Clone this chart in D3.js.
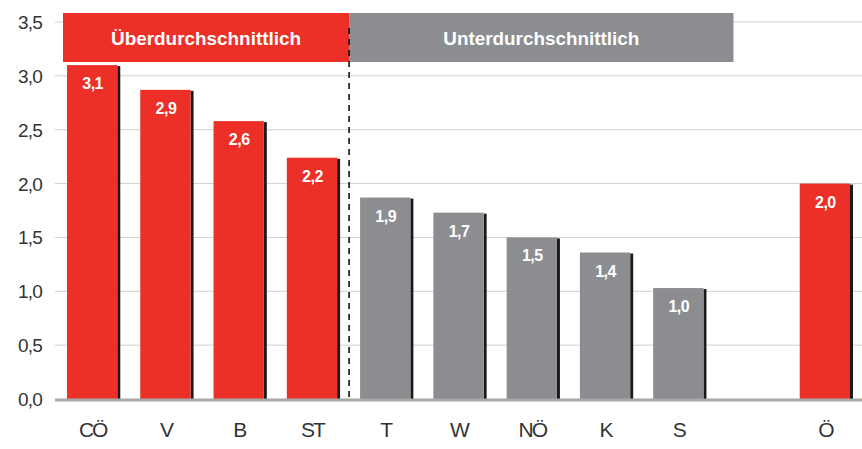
<!DOCTYPE html>
<html><head><meta charset="utf-8">
<script src="https://cdn.jsdelivr.net/npm/d3@7"></script>
<style>body{margin:0;background:#fff}svg{display:block}</style>
</head><body><svg id="c" width="862" height="449"></svg>
<script>
const categories = ["CÖ","V","B","ST","T","W","NÖ","K","S","","Ö"];
const values     = [3.10, 2.87, 2.58, 2.24, 1.87, 1.73, 1.50, 1.36, 1.03, null, 2.00];
const groups     = ["hi","hi","hi","hi","lo","lo","lo","lo","lo", null, "hi"];
const yTicks     = [0, 0.5, 1.0, 1.5, 2.0, 2.5, 3.0, 3.5];
const bannerLabels = ["Überdurchschnittlich", "Unterdurchschnittlich"];

const RED = "#ec3028", GREY = "#8b8d90";
const svg = d3.select("#c");
const x = d3.scaleBand().domain(categories).range([56, 862]).paddingInner(0.3).paddingOuter(0.15);
const y = d3.scaleLinear().domain([0, 3.5]).range([399, 22]);
const fmt = v => d3.format(".1f")(v).replace(".", ",");

// gridlines
svg.append("g").selectAll("line").data(yTicks.filter(d => d > 0)).join("line")
  .attr("x1", 55).attr("x2", 862).attr("y1", d => y(d)).attr("y2", d => y(d))
  .attr("stroke", "#d0d0d0").attr("stroke-width", 1);

// y tick labels
svg.append("g").selectAll("text").data(yTicks).join("text")
  .attr("x", 42).attr("y", d => y(d) + 7).attr("text-anchor", "end")
  .attr("font-family", "Liberation Sans, Arial, sans-serif").attr("font-size", 19)
  .attr("fill", "#333").attr("letter-spacing", "-0.8")
  .text(d => fmt(d));

// banners
const bw = x.bandwidth(), step = x.step();
const bannerX0 = [x("CÖ") - 4, x("ST") + bw + (step - bw) / 2];
const bannerX1 = [x("ST") + bw + (step - bw) / 2, x("S") + bw + 29];
const bannerFill = [RED, GREY];
const bannerTextW = [190, 196];
bannerLabels.forEach((lab, i) => {
  svg.append("rect").attr("x", bannerX0[i]).attr("y", 13)
    .attr("width", bannerX1[i] - bannerX0[i]).attr("height", 49).attr("fill", bannerFill[i]);
  svg.append("text").attr("x", (bannerX0[i] + bannerX1[i]) / 2).attr("y", 45)
    .attr("text-anchor", "middle").attr("fill", "#fff")
    .attr("font-family", "Liberation Sans Narrow, Liberation Sans, Arial, sans-serif")
    .attr("font-weight", "bold")
    .attr("font-size", 19).attr("textLength", bannerTextW[i]).attr("lengthAdjust", "spacingAndGlyphs")
    .text(lab);
});

// bars
const data = categories.map((c, i) => ({c, v: values[i], g: groups[i]})).filter(d => d.v != null);
const bars = svg.append("g");
bars.selectAll("rect.sh").data(data).join("rect").attr("class", "sh")
  .attr("x", d => x(d.c) + bw - 1).attr("y", d => y(d.v) + 1)
  .attr("width", 3).attr("height", d => y(0) - y(d.v) - 1).attr("fill", "#1a1a1a");
bars.selectAll("rect.b").data(data).join("rect").attr("class", "b")
  .attr("x", d => x(d.c)).attr("y", d => y(d.v))
  .attr("width", bw - 1).attr("height", d => y(0) - y(d.v))
  .attr("fill", d => d.g === "hi" ? RED : GREY);
bars.selectAll("text").data(data).join("text")
  .attr("x", d => x(d.c) + bw / 2).attr("y", d => y(d.v) + 24)
  .attr("text-anchor", "middle").attr("fill", "#fff")
  .attr("font-family", "Liberation Sans, Arial, sans-serif").attr("font-weight", "bold")
  .attr("font-size", 16).attr("letter-spacing", "-0.5").text(d => fmt(d.v));

// baseline
svg.append("line").attr("x1", 55).attr("x2", 862).attr("y1", y(0) + 1).attr("y2", y(0) + 1)
  .attr("stroke", "#a8a8a8").attr("stroke-width", 3);

// dashed divider
const dx = bannerX1[0];
svg.append("line").attr("x1", dx).attr("x2", dx).attr("y1", 28).attr("y2", y(0) - 2)
  .attr("stroke", "#111").attr("stroke-width", 1.6).attr("stroke-dasharray", "6,5");

// x labels
svg.append("g").selectAll("text").data(categories.filter(c => c)).join("text")
  .attr("x", d => x(d) + bw / 2).attr("y", 437).attr("text-anchor", "middle")
  .attr("font-family", "Liberation Sans, Arial, sans-serif").attr("font-size", 21)
  .attr("fill", "#333").attr("letter-spacing", "-2").text(d => d);
</script></body></html>
